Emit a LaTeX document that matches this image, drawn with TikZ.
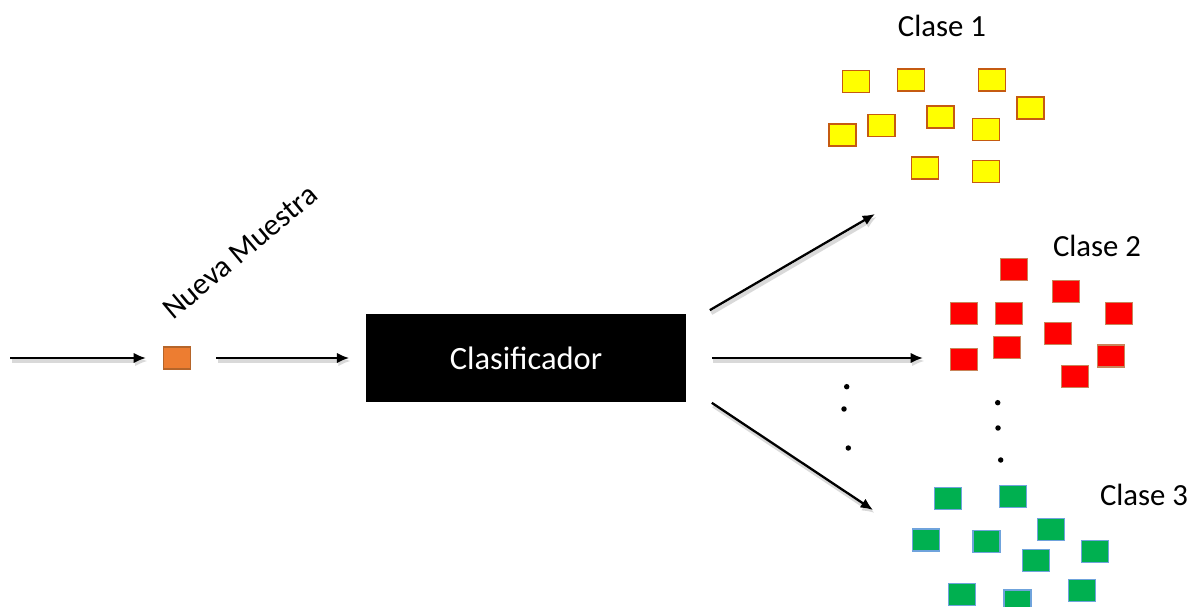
\documentclass[tikz,border=0pt]{standalone}
\usepackage{fontspec}
\setmainfont{Carlito}
\usetikzlibrary{arrows.meta}
\definecolor{amarillo}{HTML}{FFFF00}
\definecolor{bordeam}{HTML}{C55A11}
\definecolor{rojo}{HTML}{FF0000}
\definecolor{borderojo}{HTML}{C8845A}
\definecolor{verde}{HTML}{00B050}
\definecolor{bordeverde}{HTML}{6FA3DC}
\definecolor{naranja}{HTML}{ED7D31}
\definecolor{bordenar}{HTML}{B5652A}

\begin{document}
\begin{tikzpicture}[x=0.02cm,y=-0.02cm]
  \tikzstyle{every node}=[font=\fontsize{17.5}{20}\selectfont]
  \tikzstyle{muestra}=[draw,line width=0.6pt,minimum width=0.54cm,minimum height=0.44cm,inner sep=0pt]
  \tikzstyle{flecha}=[-{Latex[length=7pt,width=6pt]},line width=1.3pt,
      preaction={draw=black!15,line width=2.2pt,transform canvas={shift={(1.5,3)}}}]
  \tikzstyle{punto}=[circle,fill,inner sep=1.1pt]

  \useasboundingbox (0,0) rectangle (1192,607);

  % nueva muestra y clasificador
  \coordinate (inicio) at (10,358);
  \node[muestra,fill=naranja,draw=bordenar] (nueva) at (177,358) {};
  \node[rotate=40] (etiqueta) at (240,252) {Nueva Muestra};
  \node[fill=black,text=white,minimum width=6.42cm,minimum height=1.78cm,
        font=\fontsize{18.5}{20}\selectfont] (clasif) at (526,358) {Clasificador};

  \draw[flecha,shorten >=0.34cm] (inicio) -- (nueva);
  \draw[flecha,shorten <=0.5cm,shorten >=0.32cm] (nueva) -- (clasif);

  % salidas
  \coordinate (fin1) at (875,214);
  \coordinate (fin2) at (923,358);
  \coordinate (fin3) at (873,510);
  \draw[flecha] ([shift={(23,-3)}]clasif.north east) -- (fin1);
  \draw[flecha] ([xshift=0.5cm]clasif.east) -- (fin2);
  \draw[flecha] ([xshift=0.5cm]clasif.south east) -- (fin3);

  % clase 1
  \node (clase1) at (942,26) {Clase 1};
  \foreach \px/\py [count=\i] in {856/81.5, 911/80, 992/80, 1030.5/108, 881.5/125.7,
      940.5/117, 986/129.7, 842.5/135, 925/168, 986/171.5}
    \node[muestra,fill=amarillo,draw=bordeam] (y\i) at (\px,\py) {};

  % clase 2
  \node (clase2) at (1097,246) {Clase 2};
  \foreach \px/\py [count=\i] in {1014/269.3, 1066.3/291.3, 963.7/313.7, 1009.3/313.7, 1119.3/313.7,
      1058.2/333.8, 1007.2/347.3, 963.7/359.3, 1111.2/356, 1075/376.5}
    \node[muestra,fill=rojo,draw=borderojo] (r\i) at (\px,\py) {};

  % clase 3
  \node (clase3) at (1144,495) {Clase 3};
  \foreach \px/\py [count=\i] in {948.3/498.3, 1013.3/496.3, 926.2/540, 986.5/541.2, 1051/529.3,
      1095.3/551.5, 1036.3/560.7, 961.7/594.5, 1017.5/601, 1081.7/590.5}
    \node[muestra,fill=verde,draw=bordeverde] (g\i) at (\px,\py) {};

  % puntos suspensivos
  \foreach \px/\py [count=\i] in {846.7/386.7, 844/409, 848.3/448, 997.7/402.7, 998/428, 1000.7/460}
    \node[punto] (p\i) at (\px,\py) {};
\end{tikzpicture}
\end{document}
